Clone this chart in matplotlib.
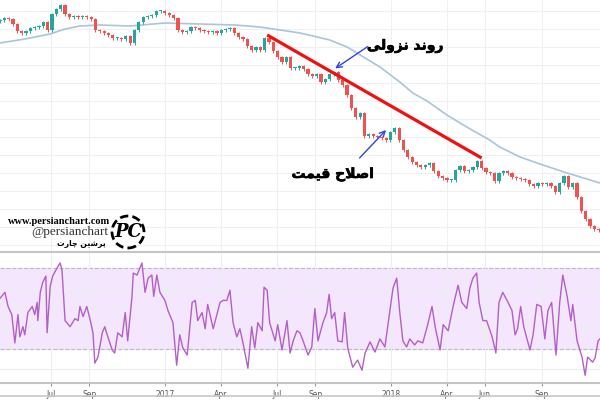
import numpy as np
import pandas as pd
import matplotlib
matplotlib.use('Agg')
import matplotlib.pyplot as plt
import matplotlib.dates as mdates
import matplotlib.patheffects as pe
from matplotlib.patches import Ellipse

# weekly closes (arbitrary price units)
closes = [230, 232, 231, 226, 219, 217, 219, 222, 223, 224,
          228, 220, 236, 241, 245, 236, 233, 234, 233, 234,
          233, 231, 220, 219, 217, 215, 212, 212, 211, 214,
          207, 220, 228, 233, 234, 235, 239, 239, 237, 235,
          232, 220, 218, 219, 223, 222, 220, 219, 218, 219,
          217, 220, 221, 222, 217, 213, 211, 204, 200, 203,
          200, 212, 208, 199, 193, 188, 193, 182, 182, 184,
          181, 176, 174, 176, 168, 171, 176, 178, 170, 165,
          155, 142, 133, 137, 114, 116, 114, 113, 112, 110,
          118, 122, 110, 100, 93, 88, 85, 83, 85, 87,
          79, 74, 72, 70, 70, 80, 84, 79, 80, 83,
          89, 82, 78, 77, 69, 77, 79, 77, 73, 72,
          71, 70, 66, 64, 67, 66, 67, 64, 58, 67,
          74, 63, 67, 53, 39, 31, 24, 21, 20]
first_open = 229
start = '2016-04-10'

# long moving average (knots: days from start, value)
ma_days = [0, 40, 81, 105, 129, 161, 210, 266, 323, 379, 419, 452, 484, 505, 532,
           560, 589, 613, 645, 666, 689, 721, 753, 790, 806, 839, 871, 915, 968]
ma_vals = [207, 211, 216, 221, 224, 225, 224, 227, 226, 225, 223, 220, 217, 214, 210,
           203, 192, 183, 168, 157, 149, 135, 123, 110, 103, 93, 86, 77, 67]

# RSI (days from start, value)
rsi_days = [0, 8, 13, 19, 24, 29, 32, 37, 40, 45,
            52, 56, 60, 61, 65, 69, 74, 76, 81, 85,
            92, 97, 100, 105, 113, 121, 126, 129, 134, 140,
            145, 150, 153, 158, 165, 169, 174, 181, 185, 190,
            197, 202, 206, 213, 215, 221, 229, 234, 239, 245,
            248, 253, 258, 266, 271, 279, 285, 290, 295, 302,
            310, 315, 319, 326, 331, 335, 344, 355, 360, 366,
            371, 376, 382, 387, 392, 400, 406, 411, 416, 423,
            426, 431, 435, 444, 448, 455, 463, 468, 473, 479,
            484, 489, 497, 503, 508, 513, 521, 527, 531, 535,
            540, 545, 552, 556, 561, 569, 577, 584, 589, 597,
            605, 613, 621, 629, 634, 640, 645, 650, 656, 661,
            669, 674, 682, 690, 697, 702, 710, 715, 723, 731,
            739, 745, 753, 758, 763, 769, 773, 779, 785, 794,
            800, 805, 811, 818, 826, 831, 835, 840, 845, 855,
            860, 866, 873, 879, 884, 890, 897, 903, 908, 915,
            921, 924, 931, 939, 944, 948, 956, 960, 965, 968]
rsi_vals = [55, 58, 51, 47, 33, 47, 36, 41, 37, 48,
            51, 47, 53, 44, 58, 63, 66, 38, 61, 66,
            70, 72.5, 69, 44, 41, 45, 44, 51, 46, 51,
            45, 38, 23, 26, 38, 41, 36, 29.5, 28, 38,
            36, 48, 34, 56, 67.5, 66.5, 72.5, 58, 65, 66.5,
            56, 66.5, 58, 54, 49, 43, 22, 37, 30.5, 27,
            53, 54, 44, 48, 40, 52, 40, 53, 54, 54,
            59, 43, 36, 40, 33, 20.5, 41, 30.5, 43, 39,
            60.5, 59, 43, 34, 42, 29.5, 44, 28, 34, 39,
            38, 34, 27, 31, 50, 34, 43, 48, 57, 45,
            48, 34, 33.5, 48, 30.5, 21, 24.5, 19.5, 28, 33.5,
            28.5, 35, 31, 49, 60, 65, 48, 34, 31, 35,
            32, 34, 33, 42, 51, 41, 29.5, 42, 39, 51,
            61.5, 53, 50, 60, 65, 67.5, 53, 44, 44, 36,
            28, 53, 58, 54, 49, 37, 40, 51, 41, 29.5,
            37, 52, 51, 35, 49, 53, 27, 53, 66.5, 56,
            44, 52, 34, 26, 17, 26, 23.5, 25.5, 34, 35]

trend_dates = ['2017-06-15', '2018-05-27']
trend_vals = [215, 92]

tick_dates = ['2016-07-01', '2016-09-01', '2017-01-01', '2017-04-01', '2017-07-01',
              '2017-09-01', '2018-01-01', '2018-04-01', '2018-06-01', '2018-09-01']
tick_labels = ['Jul', 'Sep', '2017', 'Apr', 'Jul', 'Sep', '2018', 'Apr', 'Jun', 'Sep']

label_trend = 'روند نزولی'
label_fix = 'اصلاح قیمت'
brand_fa = 'پرشین چارت'

# --- tiny persian shaper (matplotlib has no shaping / rtl) ---
forms = {
    'ا': ('\uFE8D', '\uFE8E', None, None),
    'ر': ('\uFEAD', '\uFEAE', None, None),
    'ز': ('\uFEAF', '\uFEB0', None, None),
    'د': ('\uFEA9', '\uFEAA', None, None),
    'و': ('\uFEED', '\uFEEE', None, None),
    'ن': ('\uFEE5', '\uFEE6', '\uFEE7', '\uFEE8'),
    'ل': ('\uFEDD', '\uFEDE', '\uFEDF', '\uFEE0'),
    'ی': ('\uFEEF', '\uFEF0', '\uFEF3', '\uFEF4'),
    'ص': ('\uFEB9', '\uFEBA', '\uFEBB', '\uFEBC'),
    'ح': ('\uFEA1', '\uFEA2', '\uFEA3', '\uFEA4'),
    'ق': ('\uFED5', '\uFED6', '\uFED7', '\uFED8'),
    'م': ('\uFEE1', '\uFEE2', '\uFEE3', '\uFEE4'),
    'ت': ('\uFE95', '\uFE96', '\uFE97', '\uFE98'),
    'ش': ('\uFEB5', '\uFEB6', '\uFEB7', '\uFEB8'),
    'پ': ('\uFB56', '\uFB57', '\uFB58', '\uFB59'),
    'چ': ('\uFB7A', '\uFB7B', '\uFB7C', '\uFB7D'),
}


def shape(text):
    out = []
    i = 0
    while i < len(text):
        c = text[i]
        if c not in forms:
            out.append(c)
            i += 1
            continue
        prev = text[i-1] if i > 0 else ''
        jp = prev in forms and forms[prev][2] is not None
        if c == 'ل' and i + 1 < len(text) and text[i+1] == 'ا':
            out.append('\uFEFC' if jp else '\uFEFB')
            i += 2
            continue
        nxt = text[i+1] if i + 1 < len(text) else ''
        jn = forms[c][2] is not None and nxt in forms
        iso, fin, ini, med = forms[c]
        out.append(med if jp and jn else fin if jp else ini if jn else iso)
        i += 1
    return ''.join(reversed(out))


t0 = pd.Timestamp(start)
dates = pd.date_range(t0, periods=len(closes), freq='7D')
opens = [first_open] + closes[:-1]
x = mdates.date2num(dates)
ma_x = mdates.date2num(t0 + pd.to_timedelta(ma_days, unit='D'))
rsi_x = mdates.date2num(t0 + pd.to_timedelta(rsi_days, unit='D'))

fig = plt.figure(figsize=(6, 4), dpi=100)
ax = fig.add_axes([0, 0.37, 1, 0.63])
ax2 = fig.add_axes([0, 0.0425, 1, 0.3275], sharex=ax)

up, down = '#26a69a', '#ef5350'
for xi, o, c in zip(x, opens, closes):
    col = up if c >= o else down
    lo, hi = min(o, c), max(o, c)
    ax.vlines(xi, lo - 1.5, hi + 1.5, color=col, lw=0.7, zorder=3)
    ax.bar(xi, max(hi - lo, 0.8), bottom=lo, width=5.2, color=col, lw=0, zorder=3)

ax.plot(ma_x, ma_vals, color='#a9c6d6', lw=1.2, zorder=2)
ax.plot(mdates.date2num(pd.to_datetime(trend_dates)), trend_vals, color='#f01010',
        lw=2.3, solid_capstyle='butt', zorder=4)

blue = '#3344dd'
ax.annotate('', xy=(mdates.datestr2num('2017-09-29'), 180),
            xytext=(mdates.datestr2num('2017-11-28'), 205),
            arrowprops=dict(arrowstyle='->', color=blue, lw=1.0), zorder=5)
ax.annotate('', xy=(mdates.datestr2num('2017-12-27'), 122),
            xytext=(mdates.datestr2num('2017-11-08'), 90),
            arrowprops=dict(arrowstyle='->', color=blue, lw=1.0), zorder=5)
heavy = [pe.withStroke(linewidth=0.45, foreground='black')]
ax.text(mdates.datestr2num('2018-01-24'), 204, shape(label_trend), ha='center', va='center',
        fontsize=10, fontweight='bold', family='DejaVu Sans', color='black',
        path_effects=heavy)
ax.text(mdates.datestr2num('2017-09-29'), 76, shape(label_fix), ha='center', va='center',
        fontsize=10, fontweight='bold', family='DejaVu Sans', color='black',
        path_effects=heavy)

ax.set_ylim(-2, 250)
ax.set_yticks(np.arange(5, 250, 18))
ax.set_xlim(mdates.datestr2num('2016-04-10'), mdates.datestr2num('2018-12-04'))
ax.grid(True, color='#eef0f3', lw=0.8, zorder=0)
for s in ax.spines.values():
    s.set_visible(False)
ax.tick_params(left=False, labelleft=False, bottom=False, labelbottom=False)

# RSI panel
ax2.axhspan(30, 70, color='#f3e6fd', zorder=0)
ax2.axhline(70, color='#bcbcbc', lw=0.8, ls='--', zorder=1)
ax2.axhline(30, color='#bcbcbc', lw=0.8, ls='--', zorder=1)
ax2.plot(rsi_x, rsi_vals, color='#b35fc8', lw=1.0, zorder=3)
ax2.set_ylim(13.2, 77.9)
ax2.set_yticks([20, 40, 50, 60])
ax2.grid(True, color='#eceef2', lw=0.8, zorder=0)
ax2.set_xticks(mdates.date2num(pd.to_datetime(tick_dates)))
ax2.set_xticklabels(tick_labels)
ax2.tick_params(left=False, labelleft=False, length=2, color='#999999',
                labelsize=5.5, labelcolor='#555555', pad=3)
for k in ['left', 'right']:
    ax2.spines[k].set_visible(False)
for k in ['top', 'bottom']:
    ax2.spines[k].set_color('#c4c4c4')
    ax2.spines[k].set_linewidth(1.5)
fig.add_artist(plt.Line2D([0, 1], [1 - 396 / 400] * 2, color='#c8c8c8', lw=1.2))

# watermark
fig.text(110 / 600, 1 - 221 / 400, 'www.persianchart.com', ha='right', va='center',
         fontsize=7.5, fontweight='bold', family='Liberation Serif', color='black')
fig.text(108 / 600, 1 - 232 / 400, '@persianchart', ha='right', va='center',
         fontsize=9.5, family='Liberation Serif', color='#333333')
fig.text(106 / 600, 1 - 244 / 400, shape(brand_fa), ha='right', va='center',
         fontsize=5.5, fontweight='bold', family='DejaVu Sans', color='black')
fig.add_artist(Ellipse((128 / 600, 1 - 232 / 400), 32 / 600, 32 / 400, facecolor='white',
                       edgecolor='black', lw=2, ls=(0, (3, 1.5))))
fig.text(128 / 600, 1 - 232 / 400, 'PC', ha='center', va='center', fontsize=13,
         fontstyle='italic', fontweight='bold', family='DejaVu Serif', color='black')

fig.savefig('out.png', dpi=100)
